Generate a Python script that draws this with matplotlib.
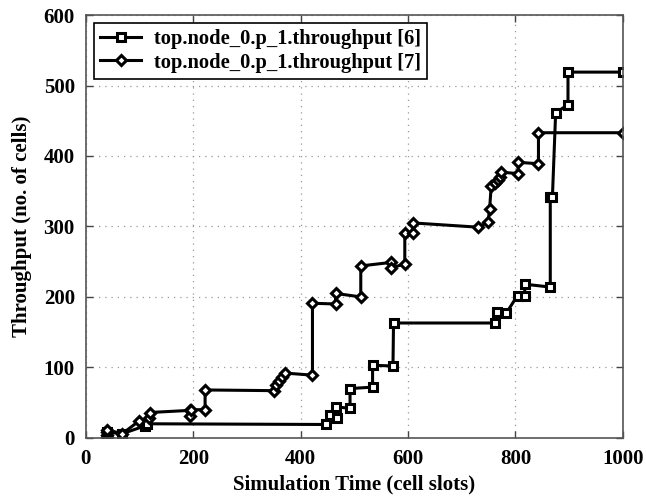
import matplotlib
matplotlib.use("Agg")
import matplotlib.pyplot as plt

# series [6] (square markers)
x6 = [40, 40, 40, 68, 110, 113, 448, 454, 467, 465, 492, 492, 534, 534, 572, 573,
      762, 766, 783, 804, 817, 818, 865, 865, 869, 875, 898, 898, 1000]
y6 = [2, 5, 8, 6, 17, 20, 19, 32, 28, 44, 42, 70, 72, 103, 102, 163,
      163, 178, 177, 202, 202, 218, 214, 342, 342, 461, 473, 519, 519]

# series [7] (diamond markers)
x7 = [40, 40, 40, 40, 68, 99, 118, 119, 193, 193, 195, 222, 222, 350, 355, 360, 365, 370,
      422, 422, 465, 465, 512, 512, 569, 569, 594, 594, 609, 609, 730, 749, 752, 755,
      762, 768, 771, 774, 805, 805, 843, 843, 1000]
y7 = [1, 4, 8, 11, 6, 24, 28, 36, 39, 31, 40, 40, 68, 67, 75, 80, 86, 92,
      89, 191, 190, 205, 200, 244, 249, 241, 247, 291, 291, 305, 299, 306, 325, 358,
      362, 366, 370, 377, 375, 391, 389, 433, 433]

label6 = 'top.node_0.p_1.throughput [6]'
label7 = 'top.node_0.p_1.throughput [7]'

plt.rcParams['font.family'] = ['Liberation Serif', 'DejaVu Serif']
plt.rcParams['font.weight'] = 'bold'

fig = plt.figure(figsize=(6.46, 5.01), dpi=100)
ax = fig.add_axes([0.133, 0.126, 0.831, 0.844])

ax.plot(x6, y6, color='black', lw=2.2, marker='s', ms=5.5, mfc='white',
        mec='black', mew=2.2, label=label6)
ax.plot(x7, y7, color='black', lw=2.2, marker='D', ms=5.5, mfc='white',
        mec='black', mew=2.2, label=label7)

ax.set_xlim(0, 1000)
ax.set_ylim(0, 600)
ax.set_xticks([0, 200, 400, 600, 800, 1000])
ax.set_yticks([0, 100, 200, 300, 400, 500, 600])
ax.grid(True, linestyle=(0, (1, 4)), color='#999999', lw=0.9)
ax.tick_params(direction='in', top=True, right=True, length=5, width=1,
               labelsize=15, pad=8, colors='#444444', labelcolor='black')
for lbl in ax.get_xticklabels() + ax.get_yticklabels():
    lbl.set_fontweight('bold')
for s in ax.spines.values():
    s.set_color('#555555')
    s.set_linewidth(1.2)

ax.set_xlabel('Simulation Time (cell slots)', fontsize=15, fontweight='bold', labelpad=4)
ax.set_ylabel('Throughput (no. of cells)', fontsize=15, fontweight='bold', labelpad=8)

leg = ax.legend(loc='upper left', fancybox=False, framealpha=1,
                edgecolor='black', borderaxespad=0.4, handlelength=2.0,
                borderpad=0.3, labelspacing=0.15, handletextpad=0.6,
                prop={'weight': 'bold', 'size': 14.8})
leg.get_frame().set_linewidth(1.2)

fig.savefig('out.png', dpi=100)
